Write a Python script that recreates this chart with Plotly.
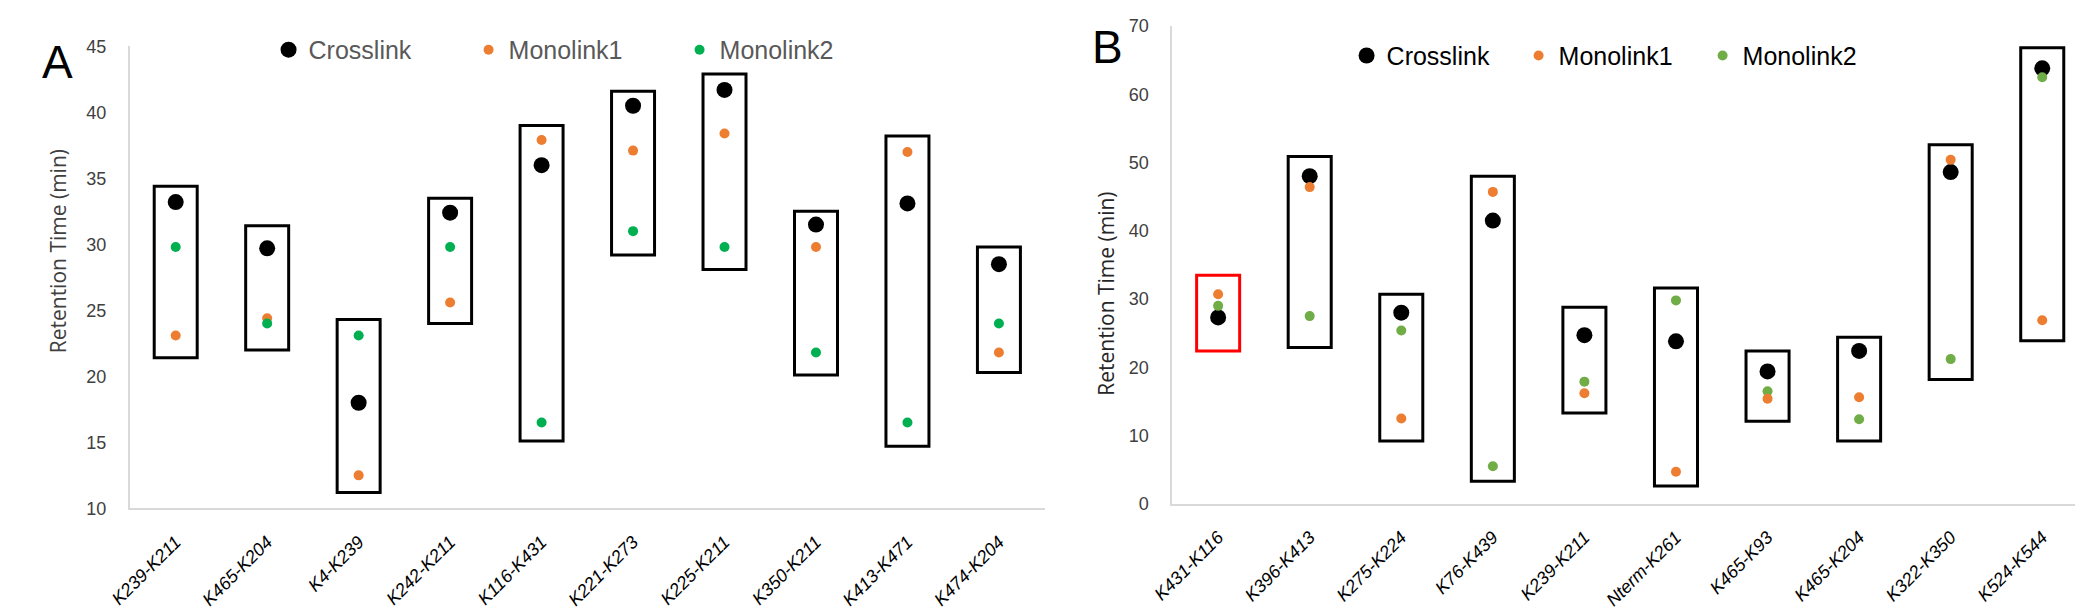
import plotly.graph_objects as go

# ---------------- Panel A data ----------------
cats_a = ["K239-K211", "K465-K204", "K4-K239", "K242-K211", "K116-K431",
          "K221-K273", "K225-K211", "K350-K211", "K413-K471", "K474-K204"]
cross_a = [33.2, 29.7, 18.0, 32.4, 36.0, 40.5, 41.7, 31.5, 33.1, 28.5]
mono1_a = [23.1, 24.4, 12.5, 25.6, 37.9, 37.1, 38.4, 29.8, 37.0, 21.8]
mono2_a = [29.8, 24.0, 23.1, 29.8, 16.5, 31.0, 29.8, 21.8, 16.5, 24.0]
box_top_a = [34.4, 31.4, 24.3, 33.5, 39.0, 41.6, 42.9, 32.5, 38.2, 29.8]
box_bot_a = [21.4, 22.0, 11.2, 24.0, 15.1, 29.2, 28.1, 20.1, 14.7, 20.3]

# ---------------- Panel B data ----------------
cats_b = ["K431-K116", "K396-K413", "K275-K224", "K76-K439", "K239-K211",
          "Nterm-K261", "K465-K93", "K465-K204", "K322-K350", "K524-K544"]
cross_b = [27.3, 48.0, 28.0, 41.5, 24.7, 23.8, 19.4, 22.4, 48.6, 63.8]
mono1_b = [30.7, 46.4, 12.5, 45.7, 16.2, 4.7, 15.4, 15.6, 50.4, 26.9]
mono2_b = [29.0, 27.5, 25.4, 5.5, 17.9, 29.8, 16.5, 12.4, 21.2, 62.5]
box_top_b = [33.5, 50.9, 30.7, 48.0, 28.8, 31.6, 22.4, 24.4, 52.6, 66.8]
box_bot_b = [22.4, 22.9, 9.2, 3.3, 13.3, 2.6, 12.1, 9.2, 18.2, 23.9]
box_color_b = ["#FF0000"] + ["#000000"] * 9

W, H = 2083, 609
BLACK = "#000000"
ORANGE = "#ED7D31"
GREEN_A = "#00B050"
GREEN_B = "#70AD47"
FONT = "Liberation Sans"

def px(x):
    return x / W

def py(y):
    return (H - y) / H

fig = go.Figure()

# boxes as floating bars
fig.add_trace(go.Bar(
    x=cats_a, y=[t - b for t, b in zip(box_top_a, box_bot_a)], base=box_bot_a,
    width=0.47, marker=dict(color="rgba(0,0,0,0)", line=dict(color=BLACK, width=3)),
    showlegend=False, hoverinfo="skip", xaxis="x", yaxis="y"))
fig.add_trace(go.Bar(
    x=cats_b, y=[t - b for t, b in zip(box_top_b, box_bot_b)], base=box_bot_b,
    width=0.47, marker=dict(color="rgba(0,0,0,0)", line=dict(color=box_color_b, width=3)),
    showlegend=False, hoverinfo="skip", xaxis="x2", yaxis="y2"))

# panel A points
fig.add_trace(go.Scatter(x=cats_a, y=cross_a, mode="markers", name="Crosslink",
                         marker=dict(color=BLACK, size=16), legend="legend",
                         legendwidth=155, xaxis="x", yaxis="y"))
fig.add_trace(go.Scatter(x=cats_a, y=mono1_a, mode="markers", name="Monolink1",
                         marker=dict(color=ORANGE, size=10), legend="legend",
                         legendwidth=166, xaxis="x", yaxis="y"))
fig.add_trace(go.Scatter(x=cats_a, y=mono2_a, mode="markers", name="Monolink2",
                         marker=dict(color=GREEN_A, size=10), legend="legend",
                         legendwidth=140, xaxis="x", yaxis="y"))

# panel B points
fig.add_trace(go.Scatter(x=cats_b, y=cross_b, mode="markers", name="Crosslink",
                         marker=dict(color=BLACK, size=16), legend="legend2",
                         legendwidth=127, legendrank=1, xaxis="x2", yaxis="y2"))
fig.add_trace(go.Scatter(x=cats_b, y=mono2_b, mode="markers", name="Monolink2",
                         marker=dict(color=GREEN_B, size=10), legend="legend2",
                         legendwidth=140, legendrank=3, xaxis="x2", yaxis="y2"))
fig.add_trace(go.Scatter(x=cats_b, y=mono1_b, mode="markers", name="Monolink1",
                         marker=dict(color=ORANGE, size=10), legend="legend2",
                         legendwidth=139, legendrank=2, xaxis="x2", yaxis="y2"))

xcommon = dict(showgrid=False, zeroline=False, showline=True, linecolor="#D9D9D9",
               linewidth=2, ticks="", tickangle=-45, ticklabelstandoff=14,
               tickfont=dict(family=FONT, size=18, color=BLACK, style="italic"),
               type="category")
ycommon = dict(showgrid=False, zeroline=False, showline=True, linecolor="#D9D9D9",
               linewidth=2, ticks="", ticklabelstandoff=18,
               tickfont=dict(family=FONT, size=18, color="#404040"))

fig.update_layout(
    width=W, height=H, margin=dict(l=0, r=0, t=0, b=0),
    paper_bgcolor="white", plot_bgcolor="white", barmode="overlay",
    xaxis=dict(domain=[px(102), px(1026)], anchor="y", range=[-0.5, 9.5], **xcommon),
    yaxis=dict(domain=[py(507), py(29.3)], anchor="x", range=[10, 45], dtick=5, **ycommon),
    xaxis2=dict(domain=[px(1155), px(2080)], anchor="y2", range=[-0.5, 9.5], **xcommon),
    yaxis2=dict(domain=[py(502.3), py(8.3)], anchor="x2", range=[0, 70], dtick=10, **ycommon),
    legend=dict(orientation="h", x=px(262 - 20), xanchor="left", y=py(33), yanchor="middle",
                font=dict(family=FONT, size=25, color="#595959"), bgcolor="rgba(0,0,0,0)",
                borderwidth=0, itemwidth=30, traceorder="normal"),
    legend2=dict(orientation="h", x=px(1360 - 29), xanchor="left", y=py(39), yanchor="middle",
                 font=dict(family=FONT, size=25, color=BLACK), bgcolor="rgba(0,0,0,0)",
                 borderwidth=0, itemwidth=30, traceorder="normal"),
    annotations=[
        dict(text="A", x=px(28.5), y=py(46), xref="paper", yref="paper", showarrow=False,
             xanchor="center", yanchor="middle", font=dict(family=FONT, size=46, color=BLACK)),
        dict(text="B", x=px(1089), y=py(30), xref="paper", yref="paper", showarrow=False,
             xanchor="center", yanchor="middle", font=dict(family=FONT, size=46, color=BLACK)),
        dict(text="Retention Time (min)", x=px(29), y=py(241.5), xref="paper", yref="paper",
             showarrow=False, textangle=-90, xanchor="center", yanchor="middle",
             font=dict(family="Open Sans", size=21, color="#404040")),
        dict(text="Retention Time (min)", x=px(1088), y=py(285), xref="paper", yref="paper",
             showarrow=False, textangle=-90, xanchor="center", yanchor="middle",
             font=dict(family="Open Sans", size=21, color="#262626")),
    ],
)

fig.write_html("out.html")
